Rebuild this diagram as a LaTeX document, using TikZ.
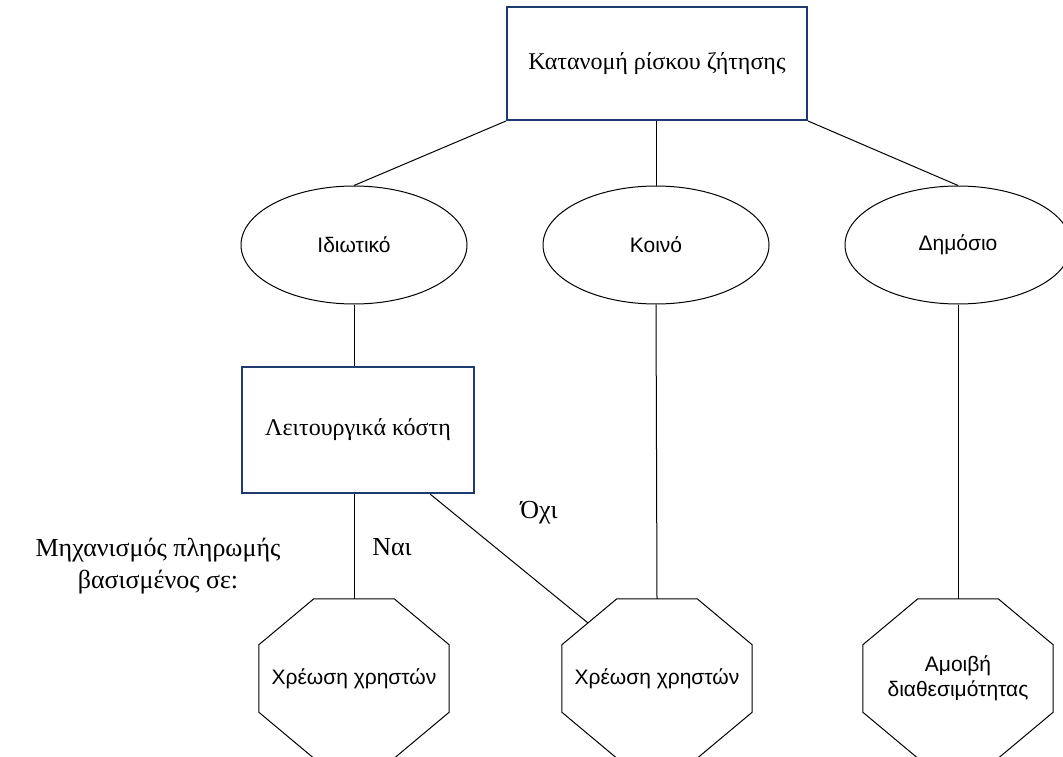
\documentclass[tikz,border=0pt]{standalone}
\usepackage{fontspec}
\setmainfont{Liberation Serif}
\setsansfont{Liberation Sans}
\usetikzlibrary{shapes.geometric}
\definecolor{boxblue}{HTML}{1F3A70}

% outline of an octagon drawn round a rectangular node
\newcommand{\octoutline}[1]{%
  \draw[octline] ([xshift=55]#1.north west) -- ([xshift=-55]#1.north east)
    -- ([yshift=-46]#1.north east) -- ([yshift=46]#1.south east)
    -- ([xshift=-55]#1.south east) -- ([xshift=55]#1.south west)
    -- ([yshift=46]#1.south west) -- ([yshift=-46]#1.north west) -- cycle;}

\begin{document}
\begin{tikzpicture}[x=1pt,y=-1pt,
  conn/.style={draw=black, line width=1pt},
  bluebox/.style={draw=boxblue, line width=2pt, rectangle, inner sep=0pt,
    font=\fontsize{24}{28}\selectfont},
  choice/.style={draw=black, line width=1pt, ellipse, minimum width=226,
    minimum height=118, inner sep=0pt, font=\sffamily\fontsize{21}{25}\selectfont},
  octnode/.style={minimum width=190, minimum height=159, inner sep=0pt,
    align=center, font=\sffamily\fontsize{21}{25}\selectfont},
  octline/.style={draw=black, line width=1pt},
  lbl/.style={font=\fontsize{26}{32}\selectfont, inner sep=0pt}]

\useasboundingbox (0,0) rectangle (1063,757);

% decision tree
\node[bluebox, minimum width=300, minimum height=113] (top) at (657,63.5) {Κατανομή ρίσκου ζήτησης};
\node[choice] (idio) at (354,245) {Ιδιωτικό};
\node[choice] (koino) at (656,245) {Κοινό};
\node[choice] (dimo) at (958,245) {Δημόσιο};
\node[bluebox, minimum width=232, minimum height=126] (leit) at (358,430) {Λειτουργικά κόστη};

\node[octnode] (xr1) at (354,678.5) {Χρέωση χρηστών};
\node[octnode] (xr2) at (657,678.5) {Χρέωση χρηστών};
\node[octnode] (amoi) at (958,678.5) {Αμοιβή\\διαθεσιμότητας};
\octoutline{xr1}
\octoutline{xr2}
\octoutline{amoi}

% connectors
\draw[conn] (top.south west) -- (idio.north);
\draw[conn] (koino.north |- top.south) -- (koino.north);
\draw[conn] (top.south east) -- (dimo.north);
\draw[conn] (idio.south) -- (idio.south |- leit.north);
\draw[conn] (xr1.north |- leit.south) -- (xr1.north);
\coordinate (leitR) at ([xshift=72]leit.south);
\coordinate (xr2edge) at ([xshift=26,yshift=-24]xr2.north west);
\draw[conn] (leitR) -- (xr2edge);
\draw[conn] (koino.south) -- (xr2.north);
\draw[conn] (dimo.south) -- (amoi.north);

% labels
\node[lbl] (nai) at (392,547) {Ναι};
\node[lbl] (oxi) at (539,513) {Όχι};
\node[lbl, align=center] (mech) at (158,566) {Μηχανισμός πληρωμής\\βασισμένος σε:};
\end{tikzpicture}
\end{document}
